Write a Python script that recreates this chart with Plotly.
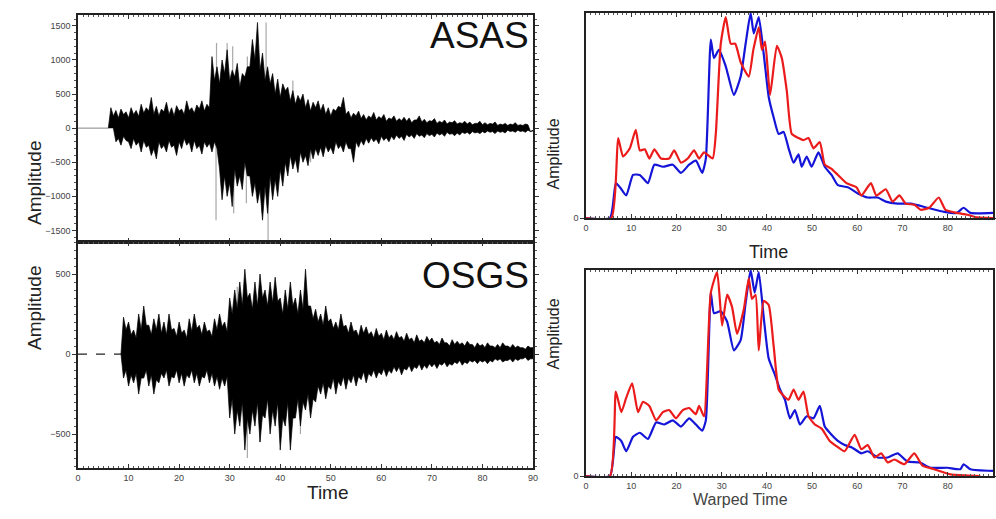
import plotly.graph_objects as go

W, H = 996, 519

# ---------------- data ----------------
# seismogram peak envelopes sampled every 0.5 s (t = 0 ... 90)
env_time = [i * 0.5 for i in range(181)]
asas_upper = [0, 0, 0, 0, 0, 0, 0, 0, 0, 0, 0, 0, 0, 300, 180, 260, 150, 280, 200, 240,
              150, 300, 200, 260, 170, 350, 220, 300, 250, 450, 200, 320, 180, 280, 240, 380, 200, 300,
              180, 330, 250, 280, 200, 400, 260, 300, 220, 340, 280, 400, 250, 350, 300, 1050, 700, 900, 650, 1000,
              800, 1150, 700, 850, 750, 950, 600, 800, 750, 900, 900, 1300, 1000, 1550, 850, 1100, 700, 900, 650, 800,
              500, 720, 450, 650, 550, 600, 400, 550, 350, 480, 400, 500, 300, 420, 250, 380, 300, 400, 250, 350,
              200, 300, 180, 280, 250, 320, 300, 450, 200, 250, 150, 220, 180, 250, 140, 200, 120, 180, 150, 230,
              120, 170, 140, 200, 100, 150, 130, 180, 100, 140, 110, 160, 100, 150, 80, 120, 120, 180, 90, 130,
              80, 110, 100, 140, 70, 100, 80, 120, 60, 90, 80, 110, 60, 80, 70, 100, 60, 90, 50, 70,
              70, 100, 50, 80, 50, 70, 60, 90, 40, 60, 50, 70, 40, 60, 50, 80, 40, 50, 40, 60,
              50]
asas_lower = [0, 0, 0, 0, 0, 0, 0, 0, 0, 0, 0, 0, 0, -200, -150, -250, -120, -180, -200, -300,
              -150, -250, -200, -350, -180, -280, -250, -400, -300, -450, -200, -300, -250, -350, -180, -280, -250, -400, -200, -300,
              -150, -250, -200, -350, -180, -300, -250, -380, -200, -280, -220, -350, -200, -300, -600, -1050, -700, -1000, -800, -1150,
              -600, -850, -700, -900, -500, -700, -700, -1000, -800, -1100, -900, -1350, -850, -1250, -700, -1050, -750, -1000, -600, -850,
              -500, -700, -400, -600, -450, -650, -350, -500, -400, -550, -300, -450, -300, -400, -280, -420, -250, -350, -280, -380,
              -200, -300, -250, -350, -200, -300, -300, -500, -200, -280, -180, -250, -150, -220, -140, -200, -160, -230, -120, -180,
              -140, -200, -120, -170, -100, -150, -120, -180, -90, -130, -100, -150, -80, -120, -100, -140, -80, -110, -90, -130,
              -70, -100, -80, -120, -60, -90, -80, -110, -70, -100, -60, -80, -60, -90, -50, -70, -60, -80, -50, -70,
              -40, -60, -50, -80, -40, -60, -50, -70, -30, -50, -40, -60, -30, -50, -40, -60, -30, -50, -30, -40,
              -50]
asas_gray_t = [27.4, 29.5, 30.6, 33.5, 37.2, 27.3, 30.8, 33.3, 37.6, 36.4, 42.5, 46.0]
asas_gray_v = [1250, 1250, 1200, 1050, 1550, -1350, -1250, -1100, -1650, -1250, 700, -500]

osgs_upper = [0, 0, 0, 0, 0, 0, 0, 0, 0, 0, 0, 0, 0, 0, 0, 0, 0, 0, 230, 150,
              200, 120, 150, 100, 250, 150, 300, 180, 180, 120, 220, 150, 250, 130, 200, 120, 250, 150, 160, 110,
              200, 130, 150, 100, 220, 140, 250, 160, 180, 120, 200, 140, 150, 110, 220, 150, 250, 170, 200, 140,
              350, 250, 400, 280, 450, 300, 530, 350, 380, 280, 450, 300, 500, 350, 400, 300, 450, 320, 480, 330,
              350, 250, 400, 280, 450, 300, 350, 250, 400, 280, 530, 300, 300, 220, 280, 200, 250, 180, 300, 200,
              220, 160, 200, 150, 250, 170, 180, 130, 200, 140, 150, 110, 180, 130, 170, 120, 140, 100, 160, 110,
              130, 90, 150, 100, 120, 90, 140, 100, 110, 80, 130, 90, 100, 70, 120, 80, 90, 70, 110, 80,
              100, 70, 80, 60, 100, 70, 70, 50, 90, 60, 80, 60, 70, 50, 80, 60, 60, 40, 70, 50,
              60, 40, 70, 50, 50, 40, 60, 40, 70, 50, 50, 40, 60, 40, 50, 40, 40, 30, 50, 40,
              40]
osgs_lower = [0, 0, 0, 0, 0, 0, 0, 0, 0, 0, 0, 0, 0, 0, 0, 0, 0, 0, -150, -100,
              -200, -130, -180, -120, -250, -150, -150, -100, -200, -130, -250, -160, -180, -120, -150, -100, -200, -140, -150, -100,
              -180, -120, -200, -130, -150, -100, -180, -120, -200, -140, -150, -100, -180, -120, -200, -140, -220, -150, -200, -140,
              -400, -280, -500, -350, -450, -300, -600, -400, -500, -350, -450, -300, -550, -380, -400, -280, -500, -350, -450, -300,
              -600, -400, -450, -300, -600, -400, -400, -280, -450, -300, -350, -250, -400, -280, -300, -200, -250, -180, -280, -200,
              -220, -150, -250, -170, -200, -140, -220, -150, -180, -130, -200, -140, -160, -110, -180, -120, -140, -100, -150, -110,
              -130, -90, -140, -100, -120, -80, -110, -80, -130, -90, -100, -70, -110, -80, -90, -60, -100, -70, -90, -60,
              -80, -60, -90, -60, -70, -50, -80, -60, -70, -50, -60, -40, -70, -50, -60, -40, -50, -40, -60, -40,
              -50, -40, -60, -40, -50, -30, -40, -30, -50, -40, -40, -30, -50, -30, -40, -30, -30, -20, -40, -30,
              -30]
osgs_gray_t = [33.5, 31.5, 36.0, 44.0]
osgs_gray_v = [-650, 420, -550, -500]

# envelopes (normalised amplitude) - top right (Time)
env1_red_t = [0, 5.6, 7.1, 8.2, 9.7, 11.0, 11.9, 13.0, 14.0, 15.1, 16.6, 18.4, 19.5, 21.0, 22.5, 23.9, 25.0, 26.1, 28.0, 28.7,
              29.8, 30.9, 32.0, 33.0, 34.2, 36.0, 37.0, 38.2, 38.9, 39.6, 40.7, 42.2, 43.3, 44.4, 45.5, 47.0, 48.1, 49.2, 50.3, 51.7,
              52.8, 54.3, 55.7, 57.6, 59.8, 60.9, 63.0, 64.2, 66.3, 67.8, 69.3, 70.7, 72.6, 74.0, 75.9, 78.0, 79.5, 82.0, 84.3, 86.5, 90.0]
env1_red_v = [0, 0, 0.39, 0.30, 0.34, 0.43, 0.33, 0.335, 0.29, 0.335, 0.29, 0.29, 0.33, 0.27, 0.29, 0.33, 0.29, 0.32, 0.29, 0.41,
              0.85, 0.98, 0.85, 0.85, 0.76, 0.69, 0.82, 0.93, 0.82, 0.86, 0.60, 0.84, 0.78, 0.62, 0.41, 0.39, 0.38, 0.39, 0.34, 0.37,
              0.26, 0.24, 0.21, 0.17, 0.15, 0.11, 0.17, 0.11, 0.14, 0.08, 0.11, 0.07, 0.065, 0.04, 0.05, 0.10, 0.04, 0.025, 0.016, 0.003, 0.0]
env1_blue_t = [0, 5.3, 6.6, 7.5, 8.9, 10.4, 11.9, 13.7, 15.1, 17.0, 19.2, 21.0, 22.8, 24.3, 25.7, 26.5, 27.6, 28.3, 29.4, 30.9,
               32.7, 34.2, 35.3, 36.4, 37.1, 38.2, 39.3, 40.4, 41.5, 42.6, 43.7, 44.8, 45.9, 47.0, 47.7, 48.8, 49.9, 51.4, 52.8, 54.3,
               55.7, 57.9, 60.1, 62.3, 64.5, 66.3, 68.9, 71.8, 75.5, 79.2, 82.0, 83.5, 85.0, 90.0]
env1_blue_v = [0, 0, 0.17, 0.15, 0.11, 0.21, 0.21, 0.17, 0.26, 0.25, 0.26, 0.22, 0.26, 0.28, 0.22, 0.29, 0.87, 0.78, 0.82, 0.74,
               0.60, 0.69, 0.85, 1.0, 0.90, 0.98, 0.80, 0.59, 0.49, 0.41, 0.42, 0.34, 0.27, 0.31, 0.25, 0.30, 0.25, 0.32, 0.25, 0.21,
               0.16, 0.15, 0.12, 0.10, 0.10, 0.08, 0.07, 0.07, 0.05, 0.03, 0.025, 0.05, 0.025, 0.025]

# envelopes - bottom right (Warped Time)
env2_red_t = [0, 5.3, 6.6, 7.8, 8.9, 10.2, 11.5, 12.6, 14.0, 15.5, 17.0, 18.4, 19.9, 21.4, 22.8, 24.3, 25.0, 26.1, 27.6, 29.0,
              30.1, 31.2, 32.3, 33.4, 34.9, 36.0, 36.7, 37.5, 38.2, 39.3, 40.4, 41.5, 42.6, 43.7, 44.8, 45.9, 47.0, 48.1, 49.2, 50.6,
              52.1, 53.9, 55.7, 57.2, 59.4, 60.9, 62.3, 63.8, 65.3, 66.7, 68.2, 70.4, 72.6, 74.4, 77.0, 80.6, 87.2]
env2_red_v = [0, 0, 0.41, 0.31, 0.38, 0.45, 0.31, 0.36, 0.34, 0.27, 0.31, 0.32, 0.28, 0.32, 0.33, 0.30, 0.34, 0.29, 0.89, 0.99,
              0.73, 0.88, 0.82, 0.69, 0.81, 0.96, 0.86, 0.88, 0.61, 0.85, 0.83, 0.63, 0.42, 0.39, 0.37, 0.42, 0.37, 0.41, 0.29, 0.25,
              0.23, 0.17, 0.14, 0.12, 0.20, 0.13, 0.15, 0.09, 0.11, 0.066, 0.08, 0.057, 0.11, 0.05, 0.033, 0.008, 0.0]
env2_blue_t = [0, 5.3, 6.6, 7.8, 8.9, 10.4, 11.9, 13.7, 15.5, 17.3, 19.2, 21.0, 22.8, 24.3, 25.7, 26.5, 27.6, 28.3, 29.8, 31.2,
               32.7, 34.2, 35.3, 36.4, 37.3, 38.2, 39.3, 40.4, 41.8, 42.9, 44.0, 45.1, 46.2, 47.3, 48.8, 50.3, 51.7, 52.8, 54.3, 55.7,
               57.2, 58.7, 60.9, 62.3, 64.5, 66.7, 68.9, 71.1, 73.7, 76.2, 79.9, 82.8, 83.5, 85.0, 90.0]
env2_blue_v = [0, 0, 0.19, 0.17, 0.12, 0.19, 0.21, 0.18, 0.26, 0.25, 0.27, 0.24, 0.28, 0.25, 0.22, 0.27, 0.89, 0.79, 0.80, 0.75,
               0.61, 0.66, 0.84, 1.0, 0.89, 0.99, 0.77, 0.57, 0.49, 0.42, 0.37, 0.28, 0.32, 0.25, 0.29, 0.28, 0.34, 0.24, 0.20, 0.17,
               0.15, 0.14, 0.11, 0.12, 0.09, 0.09, 0.11, 0.07, 0.066, 0.04, 0.04, 0.033, 0.057, 0.033, 0.025]

x_ticks = [0, 10, 20, 30, 40, 50, 60, 70, 80, 90]
asas_yticks = [-1500, -1000, -500, 0, 500, 1000, 1500]
osgs_yticks = [-500, 0, 500]

# ---------------- helpers ----------------
def band(times, upper, lower):
    xs = list(times) + list(reversed(times))
    ys = list(upper) + list(reversed(lower))
    return xs, ys

def onset(upper):
    for i, v in enumerate(upper):
        if v != 0:
            return i
    return 0

def spikes(ts, vs):
    xs, ys = [], []
    for t, v in zip(ts, vs):
        xs += [t, t, None]
        ys += [0, v, None]
    return xs, ys

BLUE = "#1515d8"
RED = "#ec1b1b"

fig = go.Figure()

def seismo(upper, lower, gray_t, gray_v, xa, ya, pre_style):
    k = onset(upper)
    fig.add_trace(go.Scatter(x=env_time[:k], y=upper[:k], mode="lines", line=pre_style,
                             xaxis=xa, yaxis=ya, showlegend=False, hoverinfo="skip"))
    gx, gy = spikes(gray_t, gray_v)
    fig.add_trace(go.Scatter(x=gx, y=gy, mode="lines", line=dict(color="#a8a8a8", width=1.2),
                             xaxis=xa, yaxis=ya, showlegend=False, hoverinfo="skip"))
    bx, by = band(env_time[k - 1:], upper[k - 1:], lower[k - 1:])
    fig.add_trace(go.Scatter(x=bx, y=by, mode="lines", fill="toself", fillcolor="black",
                             line=dict(color="black", width=0.7),
                             xaxis=xa, yaxis=ya, showlegend=False, hoverinfo="skip"))

seismo(asas_upper, asas_lower, asas_gray_t, asas_gray_v, "x", "y", dict(color="#9a9a9a", width=1.2))
seismo(osgs_upper, osgs_lower, osgs_gray_t, osgs_gray_v, "x2", "y2", dict(color="#222222", width=1.3, dash="dash"))

# envelopes
for tx, vy, col, xa, ya in [(env1_blue_t, env1_blue_v, BLUE, "x3", "y3"),
                            (env1_red_t, env1_red_v, RED, "x3", "y3"),
                            (env2_blue_t, env2_blue_v, BLUE, "x4", "y4"),
                            (env2_red_t, env2_red_v, RED, "x4", "y4")]:
    fig.add_trace(go.Scatter(x=tx, y=vy, mode="lines", line=dict(color=col, width=2.2, shape="spline", smoothing=0.5),
                             xaxis=xa, yaxis=ya, showlegend=False))

def px(x): return x / W
def py(y): return 1 - y / H

TICKFONT = dict(family="Liberation Sans, Arial, sans-serif", size=9, color="#444444")
common_x = dict(range=[0, 90], tickvals=x_ticks, ticks="inside", ticklen=4, tickcolor="#333",
                minor=dict(dtick=1, ticks="inside", ticklen=2, tickcolor="#555"),
                showline=True, linecolor="#222", linewidth=1.5, mirror="ticks",
                showgrid=False, zeroline=False, tickfont=TICKFONT)
common_y = dict(ticks="outside", ticklen=4, tickcolor="#333",
                showline=True, linecolor="#222", linewidth=1.5, mirror="ticks",
                showgrid=False, zeroline=False, tickfont=TICKFONT)

L0, L1 = px(78), px(533)
R0, R1 = px(586), px(993)

fig.update_layout(
    width=W, height=H, margin=dict(l=0, r=0, t=0, b=0, autoexpand=False),
    paper_bgcolor="white", plot_bgcolor="white",
    xaxis=dict(domain=[L0, L1], anchor="y", showticklabels=False, **common_x),
    yaxis=dict(domain=[py(242), py(15)], anchor="x", range=[-1670, 1660], tickvals=asas_yticks,
               minor=dict(dtick=100, ticks="outside", ticklen=2, tickcolor="#555"), **common_y),
    xaxis2=dict(domain=[L0, L1], anchor="y2", **common_x),
    yaxis2=dict(domain=[py(468), py(242)], anchor="x2", range=[-712, 700], tickvals=osgs_yticks,
                minor=dict(dtick=50, ticks="outside", ticklen=2, tickcolor="#555"), **common_y),
    xaxis3=dict(domain=[R0, R1], anchor="y3", **common_x),
    yaxis3=dict(domain=[py(218), py(13)], anchor="x3", range=[0, 1.0], tickvals=[0], ticktext=["0"], **common_y),
    xaxis4=dict(domain=[R0, R1], anchor="y4", **common_x),
    yaxis4=dict(domain=[py(476), py(270)], anchor="x4", range=[0, 1.0], tickvals=[0], ticktext=["0"], **common_y),
)

TITLE = "Liberation Sans, Arial, sans-serif"
ann = [
    dict(text="ASAS", x=px(531), y=py(13), xanchor="right", yanchor="top", font=dict(family=TITLE, size=37, color="#111")),
    dict(text="OSGS", x=px(531), y=py(253), xanchor="right", yanchor="top", font=dict(family=TITLE, size=37, color="#111")),
    dict(text="Amplitude", x=px(22), y=py(138), textangle=-90, font=dict(family=TITLE, size=19, color="#222")),
    dict(text="Amplitude", x=px(22), y=py(352), textangle=-90, font=dict(family=TITLE, size=19, color="#222")),
    dict(text="Time", x=px(305), y=py(505), font=dict(family=TITLE, size=19, color="#222")),
    dict(text="Amplitude", x=px(553), y=py(117), textangle=-90, font=dict(family=TITLE, size=16, color="#222")),
    dict(text="Amplitude", x=px(553), y=py(372), textangle=-90, font=dict(family=TITLE, size=16, color="#222")),
    dict(text="Time", x=px(790), y=py(252), font=dict(family=TITLE, size=18, color="#222")),
    dict(text="Warped Time", x=px(790), y=py(510), font=dict(family=TITLE, size=16, color="#444")),
]
for a in ann:
    a.update(xref="paper", yref="paper", showarrow=False)
fig.update_layout(annotations=ann)

fig.write_html("out.html", config={"displayModeBar": False},
               post_script="document.body.style.margin='0';document.body.style.overflow='hidden';")
